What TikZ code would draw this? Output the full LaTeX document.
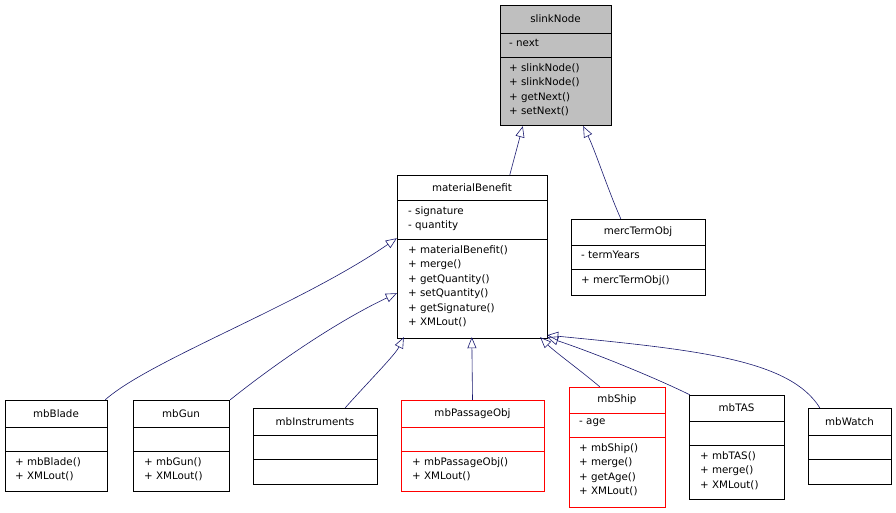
\documentclass[tikz,border=0pt]{standalone}
\usepackage{fontspec}
\setmainfont{DejaVu Sans}
\usetikzlibrary{arrows.meta,fit}
\definecolor{edge}{HTML}{191970}
\definecolor{boxred}{HTML}{FF0000}
\tikzset{
  x=1pt,y=-1pt,
  sec/.style={draw=black,fill=white,line width=0.8pt},
  graybox/.style={sec,fill={rgb,255:red,191;green,191;blue,191}},
  redbox/.style={sec,draw=boxred},
  ttl/.style={inner sep=0,font=\fontsize{10.3}{14.5}\selectfont},
  txt/.style={inner sep=0,anchor=north west,align=left,font=\fontsize{10.3}{14.5}\selectfont},
  inh/.style={draw=edge,line width=0.6pt,-{Triangle[open,length=11pt,width=9pt]}}
}
\newcommand\ubox[8]{%
  \node[fit={(#2,#4)(#3,#7)},inner sep=0,name=#1]{};
  \draw[#8] (#2,#4) rectangle (#3,#5);
  \draw[#8] (#2,#5) rectangle (#3,#6);
  \draw[#8] (#2,#6) rectangle (#3,#7);}
\begin{document}
\begin{tikzpicture}
\useasboundingbox (0,0) rectangle (896,512);
\fill[white] (0,0) rectangle (896,512);
% boxes
\ubox{sl}{500}{611}{5}{33}{57}{125}{graybox}
\node[ttl] at (555.5,19) {slinkNode};
\node[txt] at (509,39) {- next};
\node[txt] at (509,63) {+ slinkNode()\\+ slinkNode()\\+ getNext()\\+ setNext()};

\ubox{mb}{397}{547}{175}{200}{239}{338}{sec}
\node[ttl] at (472,187.5) {materialBenefit};
\node[txt] at (408,206) {- signature\\- quantity};
\node[txt] at (408,245) {+ materialBenefit()\\+ merge()\\+ getQuantity()\\+ setQuantity()\\+ getSignature()\\+ XMLout()};

\ubox{mt}{571}{705}{219}{245}{269}{295}{sec}
\node[ttl] at (638,232) {mercTermObj};
\node[txt] at (581,251) {- termYears};
\node[txt] at (581,275) {+ mercTermObj()};

\ubox{bl}{5}{107}{400}{427}{451}{491}{sec}
\node[ttl] at (56,413.5) {mbBlade};
\node[txt] at (15,457) {+ mbBlade()\\+ XMLout()};

\ubox{gu}{133}{229}{400}{427}{451}{491}{sec}
\node[ttl] at (181,413.5) {mbGun};
\node[txt] at (144,457) {+ mbGun()\\+ XMLout()};

\ubox{in}{253}{377}{408}{435}{459}{484}{sec}
\node[ttl] at (315,421.5) {mbInstruments};

\ubox{pa}{401}{544}{400}{427}{451}{491}{redbox}
\node[ttl] at (472.5,413.5) {mbPassageObj};
\node[txt] at (412,457) {+ mbPassageObj()\\+ XMLout()};

\ubox{sh}{569}{665}{387}{413}{437}{507}{redbox}
\draw[boxred,line width=0.8pt] (569,387) rectangle (665,507) (569,413) -- (665,413) (569,437) -- (665,437);
\node[ttl] at (617,400) {mbShip};
\node[txt] at (579,419) {- age};
\node[txt] at (579,443) {+ mbShip()\\+ merge()\\+ getAge()\\+ XMLout()};

\ubox{ta}{689}{784}{395}{421}{445}{499}{sec}
\node[ttl] at (736.5,408) {mbTAS};
\node[txt] at (700,451) {+ mbTAS()\\+ merge()\\+ XMLout()};

\ubox{wa}{808}{891}{408}{435}{459}{484}{sec}
\node[ttl] at (849.5,421.5) {mbWatch};

% connectors
\draw[inh] ([xshift=113pt]mb.north west) -- ([xshift=23pt,yshift=-1pt]sl.south west);
\draw[inh] ([xshift=50pt]mt.north west) .. controls (608,190) and (595,150) .. ([xshift=-28pt,yshift=-1pt]sl.south east);
\draw[inh] ([xshift=-2pt]bl.north east) .. controls (150,360) and (300,305) .. ([yshift=100pt]mb.south west);
\draw[inh] ([xshift=1pt]gu.north east) .. controls (280,360) and (340,320) .. ([yshift=45pt]mb.south west);
\draw[inh] ([xshift=-32pt]in.north east) .. controls (370,380) and (395,355) .. ([xshift=7pt,yshift=1pt]mb.south west);
\draw[inh] (pa.north) -- ([xshift=75pt,yshift=1pt]mb.south west);
\draw[inh] ([xshift=31pt]sh.north west) .. controls (580,370) and (555,352) .. ([xshift=-7pt,yshift=1pt]mb.south east);
\draw[inh] ([xshift=1pt]ta.north west) .. controls (660,380) and (600,355) .. ([yshift=1pt]mb.south east);
\draw[inh] ([xshift=12pt]wa.north west) .. controls (790,360) and (700,350) .. ([yshift=3pt]mb.south east);
\end{tikzpicture}
\end{document}
